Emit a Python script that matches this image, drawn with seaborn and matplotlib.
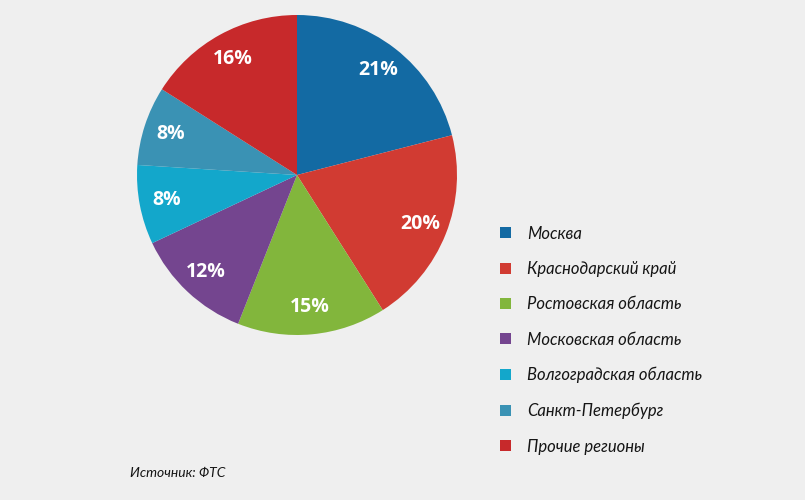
import matplotlib
matplotlib.use("Agg")
import matplotlib.pyplot as plt
import seaborn as sns

regions = ["Москва", "Краснодарский край", "Ростовская область", "Московская область",
           "Волгоградская область", "Санкт-Петербург", "Прочие регионы"]
shares = [21, 20, 15, 12, 8, 8, 16]
colors = ["#136aa3", "#d13b32", "#82b63c", "#74458f", "#13a7cb", "#3a92b4", "#c7292b"]
source = "Источник: ФТС"

sns.set_style("white")
plt.rcParams['font.family'] = ['Lato', 'DejaVu Sans']
pal = sns.color_palette(colors)

bg = "#efefef"
fig = plt.figure(figsize=(8.05, 5.0), dpi=100, facecolor=bg)
ax = fig.add_axes([137/805, 1 - 335/500, 320/805, 320/500])
ax.set_facecolor(bg)
wedges, texts, autotexts = ax.pie(
    shares, colors=pal, startangle=90, counterclock=False,
    autopct=lambda p: f"{p:.0f}%", pctdistance=0.83,
    wedgeprops=dict(linewidth=0), radius=1.0,
    textprops=dict(color="white", fontsize=14, fontweight="bold", family=['Open Sans', 'DejaVu Sans']))
ax.set_xlim(-1, 1)
ax.set_ylim(-1, 1)
ax.set_aspect("equal")
ax.axis("off")

leg = fig.legend(wedges, regions, loc="upper left",
                 bbox_to_anchor=(493/805, 1 - 219/500), frameon=False,
                 prop=dict(size=12, style="italic"),
                 handlelength=0.65, handleheight=0.65, labelspacing=1.16,
                 handletextpad=1.0, borderaxespad=0)
for t in leg.get_texts():
    t.set_color("#151515")

fig.text(130/805, 1 - 473/500, source, fontsize=10, style="italic",
         va="center", ha="left", color="#151515")

fig.savefig("out.png", dpi=100, facecolor=bg)
